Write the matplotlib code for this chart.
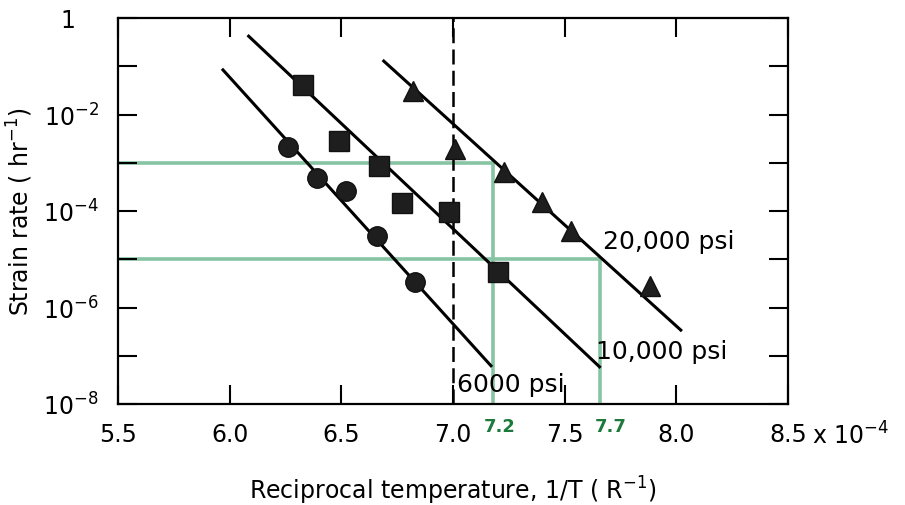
import matplotlib
matplotlib.use("Agg")
import matplotlib.pyplot as plt
import numpy as np

# ---- data (x in units of 1e-4 R^-1) ----
circ_x = [6.26, 6.39, 6.52, 6.66, 6.83]
circ_y = [2.1e-3, 4.8e-4, 2.6e-4, 3.0e-5, 3.4e-6]
sq_x = [6.33, 6.49, 6.67, 6.77, 6.98, 7.20]
sq_y = [4.1e-2, 2.8e-3, 8.6e-4, 1.5e-4, 9.5e-5, 5.4e-6]
tri_x = [6.82, 7.01, 7.23, 7.40, 7.53, 7.88]
tri_y = [3.1e-2, 1.9e-3, 6.5e-4, 1.55e-4, 3.9e-5, 2.8e-6]

fit6000_x = [5.97, 7.17]
fit6000_y = [8.4e-2, 6.2e-8]
fit10000_x = [6.085, 7.656]
fit10000_y = [4.2e-1, 5.9e-8]
fit20000_x = [6.69, 8.02]
fit20000_y = [1.28e-1, 3.4e-7]

dashed_x = 7.0

guide_y = [1e-3, 1e-5]
guide_x = [7.18, 7.66]
guide_labels = ["7.2", "7.7"]

xticks = [5.5, 6.0, 6.5, 7.0, 7.5, 8.0, 8.5]
xticklabels = ["5.5", "6.0", "6.5", "7.0", "7.5", "8.0", "8.5"]
yticks = [1e-8, 1e-7, 1e-6, 1e-5, 1e-4, 1e-3, 1e-2, 1e-1, 1]
yticklabels = [r"$10^{-8}$", "", r"$10^{-6}$", "", r"$10^{-4}$", "", r"$10^{-2}$", "", "1"]

# ---- figure ----
W, H = 905, 506
fig = plt.figure(figsize=(9.05, 5.06), dpi=100)
ax = fig.add_axes([118/W, 1-405/H, 670/W, 386/H])
ax.set_yscale("log")
ax.set_xlim(5.5, 8.5)
ax.set_ylim(1e-8, 1)

green = "#86c4a4"
for gy, gx in zip(guide_y, guide_x):
    ax.plot([5.5, gx], [gy, gy], color=green, lw=2.6, zorder=1)
    ax.plot([gx, gx], [gy, 1e-8], color=green, lw=2.6, zorder=1)

ax.axvline(dashed_x, color="black", lw=1.8, ls=(0, (6, 2.5)), zorder=2)

for fx, fy in [(fit6000_x, fit6000_y), (fit10000_x, fit10000_y), (fit20000_x, fit20000_y)]:
    ax.plot(fx, fy, color="black", lw=2.2, zorder=3)

mk = dict(ls="none", color="#1e1e1e", mec="#111111", zorder=4)
ax.plot(circ_x, circ_y, marker="o", ms=14, **mk)
ax.plot(sq_x, sq_y, marker="s", ms=14, **mk)
ax.plot(tri_x, tri_y, marker="^", ms=14, **mk)

lfs = 18
ax.text(7.67, 2.4e-5, "20,000 psi", fontsize=lfs, ha="left", va="center", zorder=5)
ax.text(7.64, 1.25e-7, "10,000 psi", fontsize=lfs, ha="left", va="center", zorder=5)
ax.text(7.02, 2.6e-8, "6000 psi", fontsize=lfs, ha="left", va="center", zorder=5)

fs = 17
ax.set_xticks(xticks)
ax.set_xticklabels(xticklabels, fontsize=fs)
ax.set_yticks(yticks)
ax.set_yticklabels(yticklabels, fontsize=fs)
ax.yaxis.set_minor_locator(matplotlib.ticker.NullLocator())
ax.tick_params(axis="both", which="major", direction="in", length=14, width=1.5,
               top=True, right=True)
ax.tick_params(axis="x", pad=13)
ax.tick_params(axis="y", pad=14)
for s in ax.spines.values():
    s.set_linewidth(1.6)
# the "1" label sits a little further left, under the other labels' mantissas
ax.get_yticklabels()[-1].set_x(-0.035)

fig.text(812/W, 1-436/H, r"x $10^{-4}$", fontsize=fs, ha="left", va="center")

guide_lab_px = [500, 611]
for px, lab in zip(guide_lab_px, guide_labels):
    fig.text(px/W, 1-427/H, lab, fontsize=13,
             color="#1d7a3c", fontweight="bold", ha="center", va="center")

ax.set_xlabel(r"Reciprocal temperature, 1/T ( R$^{-1}$)", fontsize=17, labelpad=20)
ax.set_ylabel(r"Strain rate ( hr$^{-1}$)", fontsize=17, labelpad=6)

fig.savefig("out.png", dpi=100)
